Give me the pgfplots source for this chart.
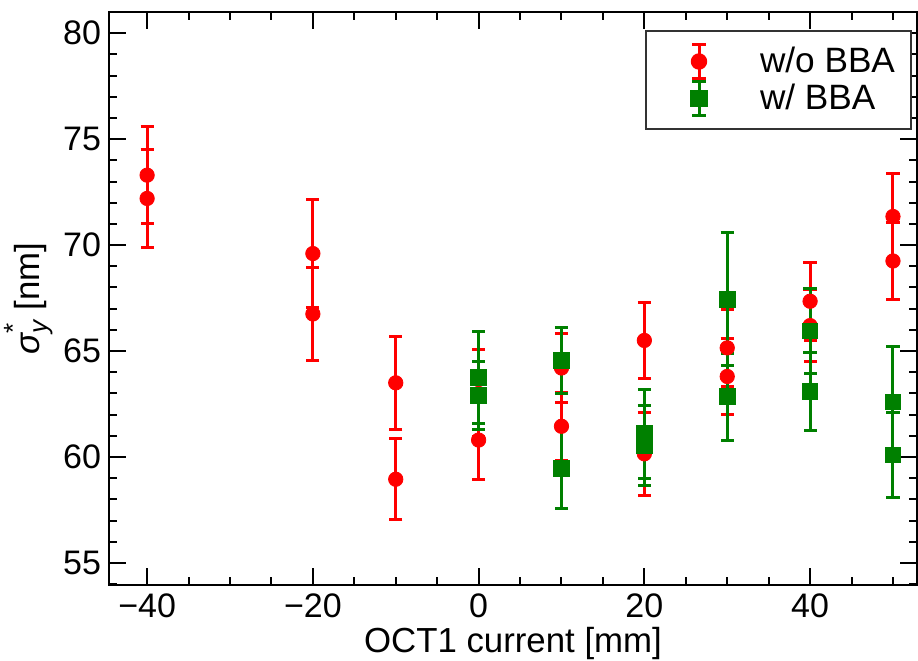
\documentclass[border=0pt]{standalone}
\usepackage{fontspec}
\setmainfont{Liberation Sans}
\usepackage{pgfplots}
\pgfplotsset{compat=1.18}
\usetikzlibrary{calc}
\definecolor{mygreen}{RGB}{0,128,0}
\definecolor{legframe}{RGB}{51,51,51}
\begin{document}
\begin{tikzpicture}
\begin{axis}[
  name=ax,
  scale only axis,
  width=404pt, height=286.5pt,
  xmin=-44.6, xmax=52.9,
  ymin=53.96, ymax=81,
  axis line style={line width=1pt},
  tick style={line width=1pt, black},
  tick align=inside,
  major tick length=8.5pt,
  minor tick length=4pt,
  xtick={-40,-20,0,20,40},
  xticklabels={−40,−20,0,20,40},
  minor xtick={-35,-30,-25,-15,-10,-5,5,10,15,25,30,35,45,50},
  ytick={55,60,65,70,75,80},
  minor ytick={54,56,57,58,59,61,62,63,64,66,67,68,69,71,72,73,74,76,77,78,79,81},
  /pgf/number format/assume math mode=true,
  tick label style={font=\fontsize{17}{20}\selectfont},
  xticklabel style={yshift=-1pt},
  yticklabel style={xshift=-0.5pt},
  label style={font=\fontsize{17.4}{20}\selectfont},
  xlabel={OCT1 current [mm]},
  ylabel={{\itshape σ}\rlap{\raisebox{0.5em}{\fontsize{13}{14}\selectfont *}}\raisebox{-0.25em}{\fontsize{13}{14}\selectfont\itshape y} [nm]},
  xlabel style={yshift=2.5pt},
  ylabel style={yshift=-2pt},
  legend cell align=left,
  legend style={
    at={(axis description cs:1,1)}, anchor=north east,
    xshift=-2.5pt, yshift=-9pt,
    draw=legframe, line width=1pt,
    font=\fontsize{17.6}{18}\selectfont,
    inner xsep=6pt, inner ysep=6pt,
    row sep=0pt,
    /tikz/every even column/.append style={column sep=43pt},
  },
  legend image code/.code={%
    \path[draw=none, fill=none] (0pt,-9pt) rectangle (49pt,9pt);
    \draw[#1, mark=none, solid, line width=1.5pt] (20.5pt,-8.5pt)--(20.5pt,8.5pt)
      (17.2pt,-8.5pt)--(23.8pt,-8.5pt) (17.2pt,8.5pt)--(23.8pt,8.5pt);
    \path[#1, only marks] plot coordinates {(20.5pt,0pt)};
  },
  error bars/error bar style={line width=1.5pt},
  error bars/error mark options={line width=1.5pt, mark size=3.3pt, rotate=90},
]
\addplot[only marks, color=red, mark=*, mark size=3.6pt, mark options={fill=red, draw=red},
  error bars/.cd, y dir=both, y explicit]
  table[x=x, y=y, y error=e] {
x y e
-40 73.3 2.3
-40 72.2 2.3
-20 69.6 2.55
-20 66.75 2.2
-10 63.5 2.2
-10 58.95 1.9
0 60.8 1.85
0 63.0 2.05
10 64.2 1.65
10 61.45 1.6
20 65.5 1.8
20 60.15 1.95
30 65.15 1.8
30 63.8 1.8
40 67.35 1.85
40 66.2 1.7
50 71.35 2.05
50 69.25 1.8
};
\addlegendentry{w/o BBA}
\addplot[only marks, color=mygreen, mark=square*, mark size=3.9pt, mark options={fill=mygreen, draw=mygreen},
  error bars/.cd, y dir=both, y explicit]
  table[x=x, y=y, y error=e] {
x y e
0 63.75 2.15
0 62.9 1.6
10 64.55 1.55
10 59.45 1.9
20 61.1 2.1
20 60.55 1.9
30 67.45 3.15
30 62.85 2.05
40 65.95 2.0
40 63.1 1.85
50 62.6 2.6
50 60.1 2.0
};
\addlegendentry{w/ BBA}
\end{axis}
\pgfresetboundingbox
\path ($(ax.south west)+(-54.5pt,-38pt)$) rectangle ($(ax.north east)+(0.5pt,6pt)$);
\end{tikzpicture}
\end{document}
